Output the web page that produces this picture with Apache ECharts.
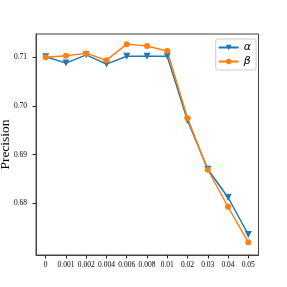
<!DOCTYPE html>
<html><head><meta charset="utf-8">
<script src="https://cdn.jsdelivr.net/npm/echarts@6/dist/echarts.min.js"></script>
<style>html,body{margin:0;padding:0;background:#fff}#c{width:287px;height:287px}</style>
</head><body><div id="c"></div>
<script>
const categories = ['0','0.001','0.002','0.004','0.006','0.008','0.01','0.02','0.03','0.04','0.05'];
const alphaValues = [0.7101, 0.7088, 0.7105, 0.7086, 0.7102, 0.7102, 0.7102, 0.6970, 0.6870, 0.6812, 0.6736];
const betaValues  = [0.7100, 0.7103, 0.7108, 0.7094, 0.7127, 0.7123, 0.7113, 0.6975, 0.6869, 0.6793, 0.6720];
const yTicks = [0.68, 0.69, 0.70, 0.71];
const xTicks = categories.map((c, i) => i);

const serif = 'Liberation Serif';
const chart = echarts.init(document.getElementById('c'), null, {renderer: 'canvas'});
chart.setOption({
  animation: false,
  backgroundColor: '#fff',
  grid: {left: 36, top: 34, right: 28.5, bottom: 32, show: false, containLabel: false, outerBoundsMode: 'none'},
  legend: {
    right: 31, top: 39, orient: 'vertical',
    itemWidth: 20, itemHeight: 7, itemGap: 3,
    padding: [3, 5, 3, 2],
    borderColor: '#cccccc', borderWidth: 1, borderRadius: 2, backgroundColor: '#fff',
    textStyle: {fontFamily: 'DejaVu Sans', fontStyle: 'italic', fontSize: 11, color: '#000'},
    data: [{name: 'α'}, {name: 'β'}]
  },
  xAxis: {
    type: 'value', min: -0.479, max: 10.503,
    splitLine: {show: false},
    axisLine: {show: true, onZero: false, lineStyle: {color: '#444', width: 1}},
    axisTick: {show: true, customValues: xTicks, length: 3.5, lineStyle: {color: '#222'}},
    axisLabel: {customValues: xTicks, formatter: v => categories[Math.round(v)], fontFamily: serif, fontSize: 7.5, color: '#000', margin: 6}
  },
  yAxis: {
    type: 'value', min: 0.66939, max: 0.71478,
    name: 'Precision', nameLocation: 'middle', nameGap: 24, nameMoveOverlap: false,
    nameTextStyle: {fontFamily: serif, fontSize: 13.5, color: '#000'},
    splitLine: {show: false},
    axisLine: {show: true, onZero: false, lineStyle: {color: '#444', width: 1}},
    axisTick: {show: true, customValues: yTicks, length: 3.5, lineStyle: {color: '#222'}},
    axisLabel: {customValues: yTicks, formatter: v => v.toFixed(2), fontFamily: serif, fontSize: 7.5, color: '#000', margin: 9}
  },
  series: [
    {
      name: 'α', type: 'line',
      data: alphaValues.map((v, i) => [i, v]),
      symbol: 'triangle', symbolRotate: 180, symbolSize: 7,
      lineStyle: {color: '#1f77b4', width: 1.5},
      itemStyle: {color: '#1f77b4'}
    },
    {
      name: 'β', type: 'line',
      data: betaValues.map((v, i) => [i, v]),
      symbol: 'circle', symbolSize: 6,
      lineStyle: {color: '#ff7f0e', width: 1.5},
      itemStyle: {color: '#ff7f0e'}
    }
  ],
  graphic: [{
    type: 'rect', shape: {x: 36, y: 34, width: 222.5, height: 221},
    style: {fill: 'none', stroke: '#444', lineWidth: 1}, silent: true, z: 10
  }]
});
</script>
</body></html>
